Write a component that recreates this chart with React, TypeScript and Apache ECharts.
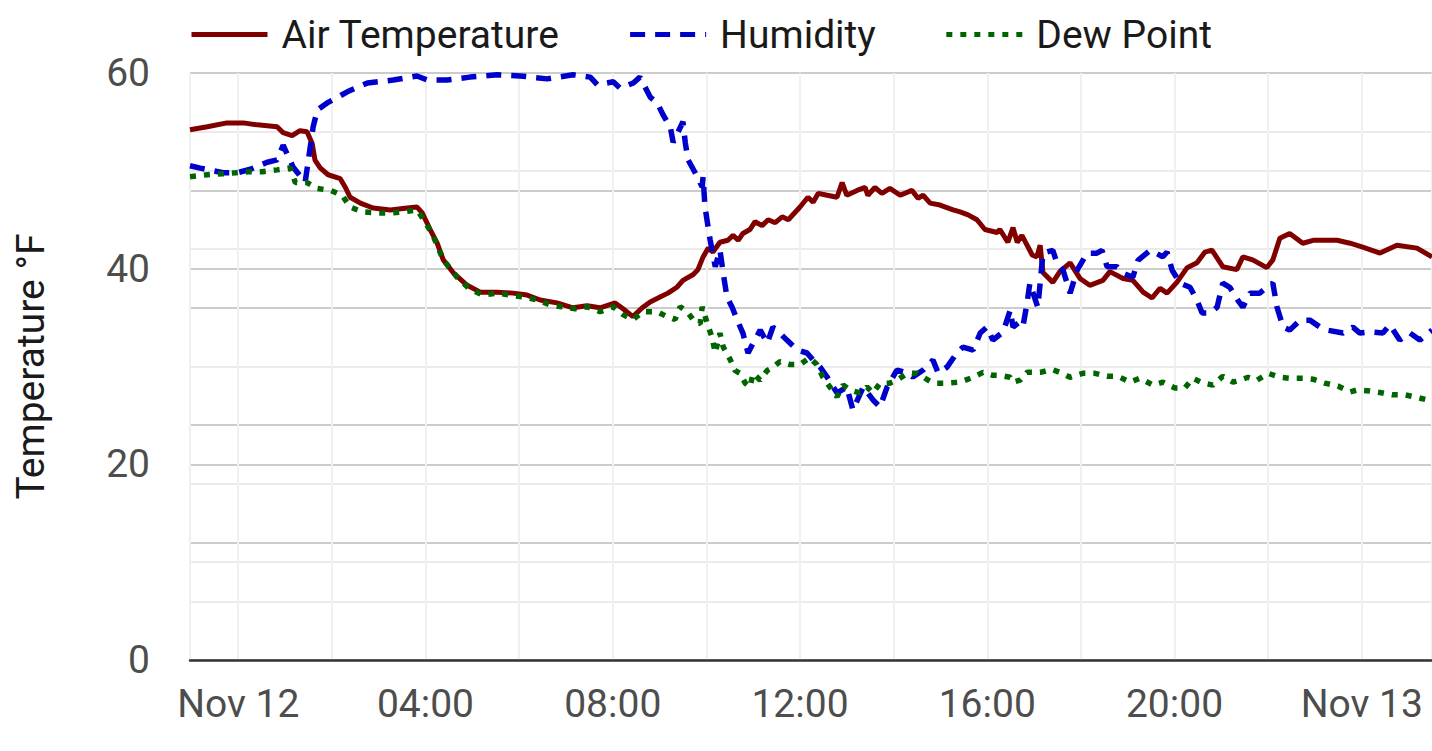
import React, { useEffect, useRef } from "react";
import * as echarts from "echarts";

const HOUR = 3600 * 1000;
const BASE = new Date(2024, 10, 12, 0, 0, 0).getTime();
const X_MIN_HOURS = -1.03;
const X_MAX_HOURS = 25.5;

const legendNames = ["Air Temperature", "Humidity", "Dew Point"];

// hours relative to Nov 12 00:00
const airTempHours = [-1.03,-0.66,-0.24,0.11,0.41,0.83,0.96,1.15,1.32,1.47,1.58,1.64,1.75,1.92,2.18,2.29,2.39,2.61,2.88,3.25,3.61,3.82,3.93,4.10,4.25,4.38,4.59,4.89,5.17,5.53,5.87,6.17,6.45,6.81,7.15,7.45,7.73,8.05,8.22,8.43,8.63,8.80,9.01,9.18,9.37,9.50,9.72,9.82,9.93,10.04,10.14,10.29,10.46,10.57,10.68,10.78,10.93,11.04,11.19,11.32,11.47,11.62,11.75,12.00,12.17,12.28,12.39,12.58,12.79,12.90,13.00,13.22,13.39,13.45,13.60,13.75,13.92,14.14,14.39,14.52,14.63,14.78,14.99,15.27,15.42,15.59,15.78,15.95,16.21,16.27,16.44,16.55,16.64,16.74,16.96,17.06,17.13,17.19,17.40,17.55,17.77,17.98,18.19,18.47,18.62,18.90,19.11,19.33,19.52,19.69,19.84,20.05,20.27,20.48,20.65,20.80,21.03,21.33,21.46,21.67,21.97,22.10,22.25,22.46,22.74,22.96,23.47,23.75,24.02,24.39,24.75,25.18,25.50];
const airTempValues = [54.2,54.5,54.9,54.9,54.7,54.5,53.9,53.6,54.1,54.0,52.8,51.1,50.3,49.6,49.2,48.3,47.3,46.7,46.2,46.0,46.2,46.3,45.7,44.0,42.6,40.9,39.6,38.3,37.6,37.6,37.5,37.3,36.8,36.5,36.0,36.2,36.0,36.5,35.9,35.1,36.0,36.6,37.1,37.5,38.1,38.8,39.4,39.9,41.2,42.1,41.7,42.7,42.9,43.4,42.9,43.6,44.0,44.8,44.4,45.0,44.7,45.3,45.0,46.3,47.3,46.8,47.7,47.5,47.3,48.8,47.5,48.0,48.3,47.5,48.3,47.7,48.2,47.5,48.0,47.2,47.5,46.7,46.5,46.0,45.8,45.5,45.0,44.0,43.7,44.0,42.7,44.2,42.7,43.4,41.4,41.2,42.4,39.6,38.6,39.7,40.6,39.0,38.3,38.8,39.7,39.0,38.8,37.6,37.0,38.0,37.5,38.6,40.1,40.6,41.7,41.9,40.2,39.9,41.2,40.9,40.1,40.9,43.1,43.6,42.6,42.9,42.9,42.6,42.2,41.6,42.4,42.1,41.2];

const humidityHours = [-1.03,-0.81,-0.32,-0.02,0.26,0.62,0.83,0.96,1.17,1.43,1.60,1.69,1.90,2.33,2.76,3.31,3.82,4.04,4.46,4.95,5.53,6.02,6.60,7.15,7.52,7.67,8.01,8.16,8.44,8.58,8.80,8.95,9.08,9.23,9.29,9.50,9.55,9.61,9.76,9.91,9.93,9.97,10.08,10.19,10.29,10.36,10.44,10.55,10.66,10.78,10.89,11.00,11.15,11.30,11.42,11.57,11.72,11.94,12.15,12.28,12.43,12.58,12.79,13.00,13.13,13.35,13.56,13.71,13.86,14.07,14.29,14.41,14.63,14.84,14.95,15.14,15.35,15.48,15.70,15.85,15.99,16.12,16.34,16.49,16.55,16.66,16.76,16.85,16.91,16.98,17.08,17.13,17.19,17.40,17.49,17.62,17.77,17.92,18.13,18.34,18.45,18.56,18.77,18.90,19.11,19.22,19.48,19.75,19.84,19.95,20.12,20.33,20.48,20.59,20.76,20.91,21.03,21.18,21.35,21.46,21.61,21.82,21.97,22.10,22.19,22.32,22.46,22.68,22.89,23.11,23.26,23.60,23.81,23.96,24.17,24.45,24.60,24.81,25.03,25.24,25.50];
const humidityValues = [84.2,83.8,83.0,83.0,83.6,84.8,85.2,87.7,84.0,81.4,90.8,93.7,94.9,96.8,98.3,98.8,99.5,98.8,98.8,99.3,99.7,99.5,99.0,99.7,99.3,98.0,98.5,97.4,98.3,99.3,95.9,94.9,92.8,90.8,88.2,91.7,88.1,85.2,83.0,80.6,82.3,77.2,71.6,67.0,69.8,65.9,61.8,60.1,57.9,55.7,52.3,54.0,56.2,54.0,56.7,55.7,54.5,52.8,52.3,51.1,49.9,48.2,45.5,46.5,42.6,46.5,44.3,43.1,46.5,49.4,48.9,48.2,49.4,51.1,48.9,49.9,52.3,53.3,52.8,55.7,56.7,54.5,55.9,59.6,56.7,57.4,56.7,60.8,64.2,62.5,60.1,64.2,69.3,69.8,67.6,66.4,62.5,66.4,69.3,69.3,69.8,67.0,67.0,65.9,65.2,68.1,69.8,68.7,69.5,66.4,64.2,63.5,61.3,59.1,59.1,60.1,64.2,63.5,61.3,60.1,62.5,62.5,63.5,64.2,60.1,56.7,56.2,57.9,57.9,56.7,56.2,55.7,56.7,55.7,55.9,55.7,57.1,54.5,55.7,54.5,56.2];

const dewPointHours = [-1.03,-0.66,-0.34,-0.06,0.21,0.51,0.83,1.11,1.22,1.47,1.69,1.97,2.22,2.39,2.65,2.97,3.25,3.52,3.82,3.99,4.16,4.38,4.68,4.95,5.23,5.53,5.81,6.09,6.39,6.66,6.92,7.20,7.45,7.73,8.01,8.22,8.43,8.65,8.95,9.16,9.33,9.44,9.59,9.76,9.87,9.91,10.02,10.12,10.19,10.29,10.36,10.51,10.61,10.72,10.83,10.93,11.00,11.15,11.30,11.42,11.57,11.79,12.00,12.21,12.36,12.49,12.64,12.79,12.92,13.07,13.28,13.43,13.56,13.71,13.92,14.07,14.29,14.50,14.84,15.14,15.42,15.70,15.91,16.12,16.27,16.49,16.55,16.70,16.85,17.13,17.38,17.60,17.77,18.04,18.30,18.56,18.79,19.05,19.26,19.54,19.75,20.01,20.22,20.39,20.61,20.82,21.03,21.25,21.40,21.57,21.76,22.00,22.25,22.46,22.74,22.96,23.21,23.49,23.75,23.90,24.17,24.45,24.66,24.92,25.13,25.39,25.50];
const dewPointValues = [49.4,49.6,49.7,49.8,49.9,49.9,50.1,50.3,48.8,48.8,48.2,48.0,47.5,46.3,45.8,45.7,45.7,45.8,46.0,44.8,43.4,40.9,39.1,37.9,37.3,37.5,37.3,37.1,36.8,36.3,36.1,35.9,36.1,35.6,36.1,35.3,34.8,35.6,35.6,35.1,34.8,36.1,35.6,34.5,34.4,36.1,34.4,33.0,31.4,33.4,32.0,30.7,29.6,29.3,28.3,27.9,29.3,28.6,29.6,29.9,30.5,30.2,30.2,30.9,30.2,28.9,27.9,26.9,28.1,27.6,27.3,27.9,27.3,28.3,28.3,28.6,29.3,29.3,28.3,28.3,28.4,28.9,29.4,29.1,29.1,28.9,28.4,28.6,29.4,29.4,29.7,29.3,28.9,29.3,29.3,29.0,29.0,28.4,28.8,28.1,28.4,27.8,27.8,28.8,28.3,28.1,29.0,28.4,28.6,28.9,28.6,29.3,28.9,28.8,28.8,28.7,28.3,28.0,27.4,27.6,27.5,27.3,27.1,27.1,26.9,26.6,26.4];

const toPairs = (hours: number[], values: number[]) =>
  hours.map((h, i) => [BASE + h * HOUR, values[i]]);

const pad = (n: number) => (n < 10 ? "0" + n : "" + n);
const MONTHS = ["Jan","Feb","Mar","Apr","May","Jun","Jul","Aug","Sep","Oct","Nov","Dec"];

export default function App() {
  const ref = useRef<HTMLDivElement>(null);

  useEffect(() => {
    document.body.style.margin = "0";
    if (!ref.current) return;
    const chart = echarts.init(ref.current, undefined, { renderer: "svg" });
    const font = "Roboto";
    const fs = 39;
    const majorGrid = { color: "#cccccc", width: 2 };
    const minorGrid = { color: "#ebebeb", width: 2 };
    chart.setOption({
      animation: false,
      textStyle: { fontFamily: font },
      legend: {
        data: legendNames,
        left: 189,
        top: 15,
        padding: 0,
        itemWidth: 76,
        itemHeight: 20,
        itemGap: 68,
        itemStyle: { opacity: 0 },
        lineStyle: { width: 5 },
        textStyle: { fontSize: fs, color: "#1a1a1a", fontFamily: font, padding: [0, 0, 0, 9] },
      },
      grid: { left: 190, right: 0, top: 73, bottom: 91, containLabel: false },
      xAxis: {
        type: "time",
        min: BASE + X_MIN_HOURS * HOUR,
        max: BASE + X_MAX_HOURS * HOUR,
        minInterval: 3 * HOUR,
        maxInterval: 3 * HOUR,
        axisLine: { lineStyle: { color: "#333333", width: 2.5 } },
        axisTick: { show: false },
        axisLabel: {
          interval: 0,
          fontSize: fs,
          color: "#4d4d4d",
          fontFamily: font,
          margin: 24,
          hideOverlap: false,
          showMinLabel: false,
          showMaxLabel: false,
          formatter: (value: number) => {
            const d = new Date(value);
            const h = d.getHours();
            if (d.getMinutes() !== 0 || h % 4 !== 0) return "";
            if (h === 0) return MONTHS[d.getMonth()] + " " + d.getDate();
            return pad(h) + ":00";
          },
        },
        splitLine: { show: true, lineStyle: { color: "#f0f0f0", width: 2 } },
      },
      yAxis: [
        {
          type: "value",
          min: 0,
          max: 60,
          interval: 20,
          name: "Temperature °F",
          nameLocation: "middle",
          nameGap: 140,
          nameTextStyle: { fontSize: fs, color: "#1a1a1a", fontFamily: font },
          axisLine: { show: false },
          axisTick: { show: false },
          axisLabel: { fontSize: fs, color: "#4d4d4d", fontFamily: font, margin: 40 },
          splitLine: { show: true, lineStyle: majorGrid },
          minorTick: { show: false, splitNumber: 2 },
          minorSplitLine: { show: true, lineStyle: minorGrid },
        },
        {
          type: "value",
          min: 0,
          max: 100,
          interval: 20,
          position: "right",
          axisLine: { show: false },
          axisTick: { show: false },
          axisLabel: { show: false },
          splitLine: { show: true, lineStyle: majorGrid },
          minorTick: { show: false, splitNumber: 2 },
          minorSplitLine: { show: true, lineStyle: minorGrid },
        },
      ],
      series: [
        {
          name: "Air Temperature",
          type: "line",
          data: toPairs(airTempHours, airTempValues),
          symbol: "none",
          showSymbol: false,
          itemStyle: { color: "#800000" },
          lineStyle: { color: "#800000", width: 5 },
        },
        {
          name: "Humidity",
          type: "line",
          yAxisIndex: 1,
          data: toPairs(humidityHours, humidityValues),
          symbol: "none",
          showSymbol: false,
          itemStyle: { color: "#0000CD" },
          lineStyle: { color: "#0000CD", width: 5.5, type: [15, 10] },
        },
        {
          name: "Dew Point",
          type: "line",
          data: toPairs(dewPointHours, dewPointValues),
          symbol: "none",
          showSymbol: false,
          itemStyle: { color: "#006400" },
          lineStyle: { color: "#006400", width: 5.5, type: [6, 8] },
        },
      ],
    });
    return () => chart.dispose();
  }, []);

  return (
    <div
      ref={ref}
      style={{ position: "absolute", left: 0, top: 0, width: 1432, height: 751 }}
    />
  );
}
